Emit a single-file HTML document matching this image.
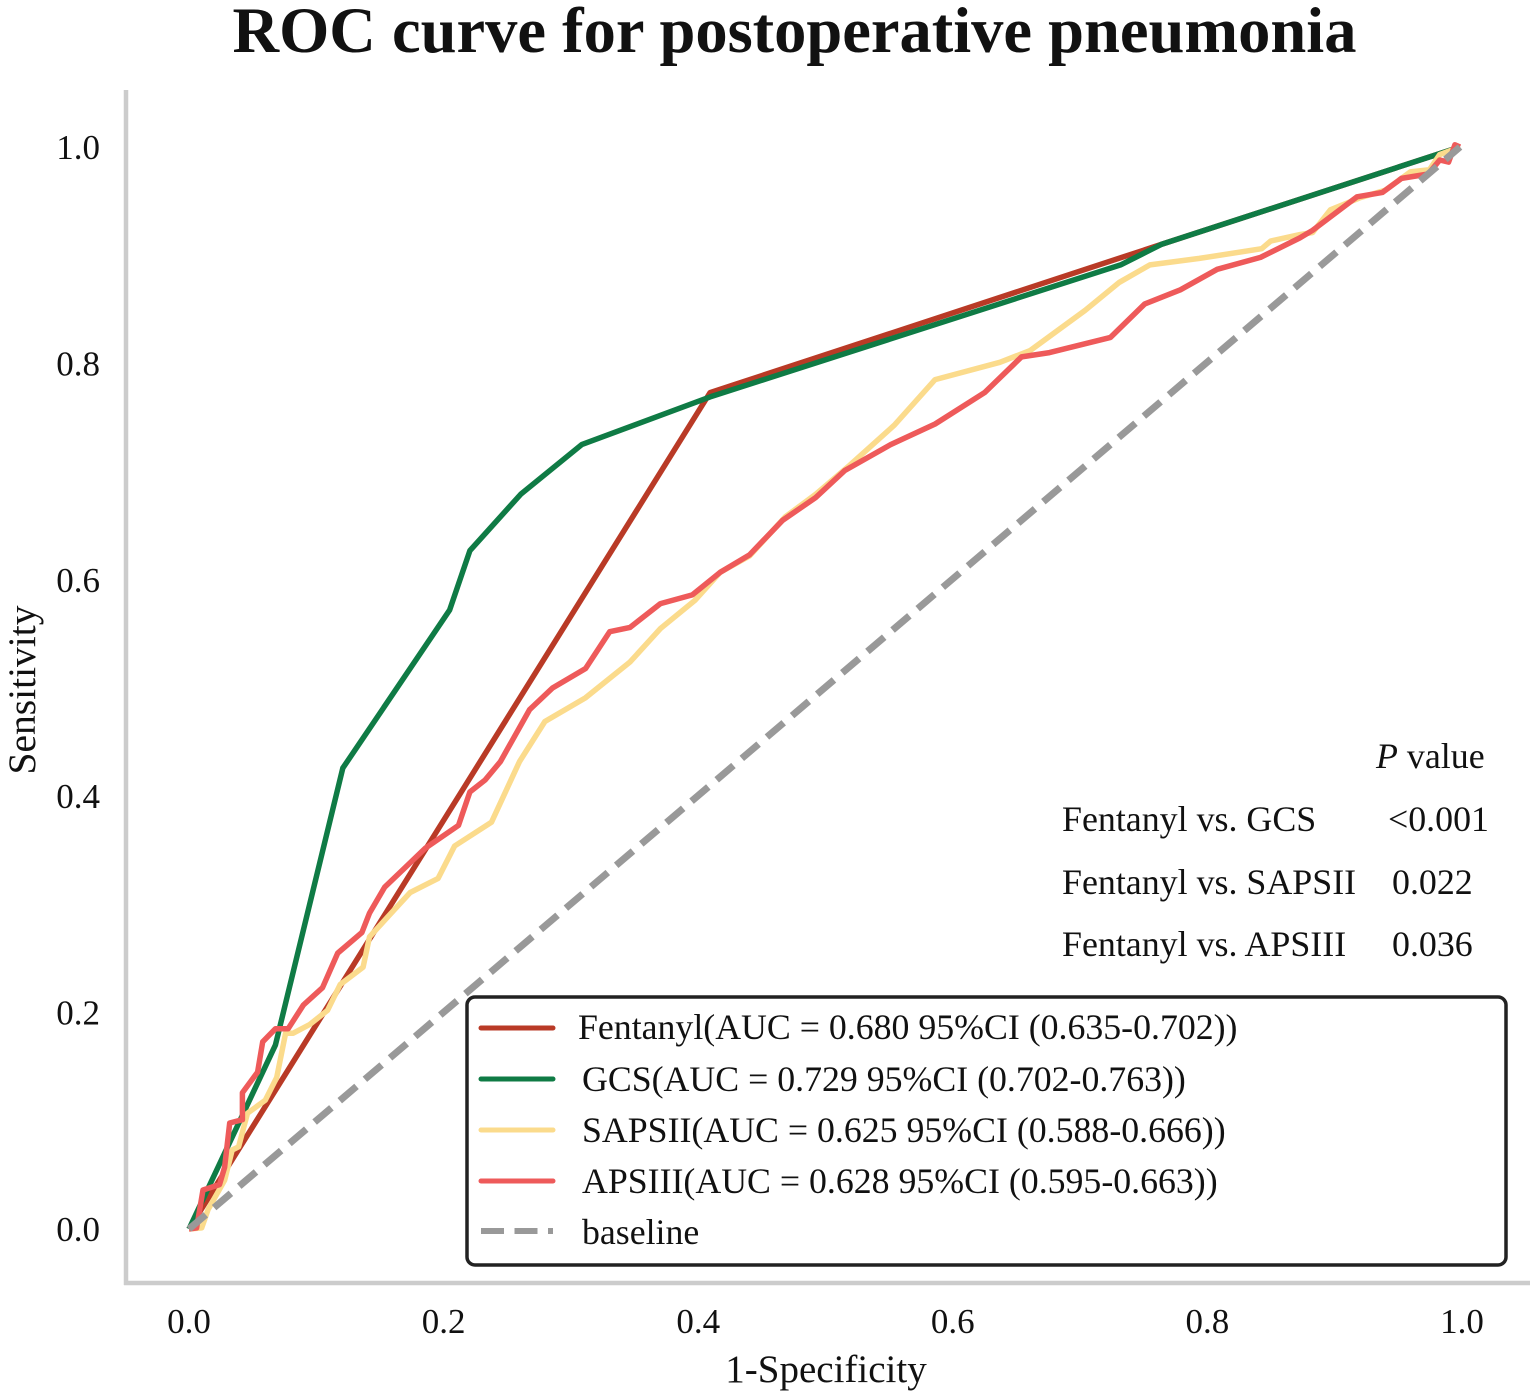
<!DOCTYPE html>
<html lang="en">
<head>
<meta charset="utf-8">
<title>ROC curve for postoperative pneumonia</title>
<style>
html,body{margin:0;padding:0;background:#fff;}
svg{display:block;}
text{font-family:"Liberation Serif",serif;fill:#111;}
</style>
</head>
<body>
<svg id="chart" width="1535" height="1400" viewBox="0 0 1535 1400" xmlns="http://www.w3.org/2000/svg">
  <rect width="1535" height="1400" fill="#fff"/>
  <text x="794.5" y="52" text-anchor="middle" font-size="64.5" font-weight="bold">ROC curve for postoperative pneumonia</text>
  <line x1="126" y1="90" x2="126" y2="1285" stroke="#ccc" stroke-width="4.5"/>
  <line x1="124" y1="1283" x2="1530" y2="1283" stroke="#ccc" stroke-width="4.5"/>
  <g id="ticks"></g>
  <g id="series"></g>
  <text x="826" y="1382" text-anchor="middle" font-size="39">1-Specificity</text>
  <text transform="translate(35,690) rotate(-90)" text-anchor="middle" font-size="39.5">Sensitivity</text>

  <g font-size="35.9">
    <text x="1376" y="768"><tspan font-style="italic">P</tspan> value</text>
    <text x="1062" y="831">Fentanyl vs. GCS</text>
    <text x="1388" y="831">&lt;0.001</text>
    <text x="1062" y="894">Fentanyl vs. SAPSII</text>
    <text x="1392" y="894">0.022</text>
    <text x="1062" y="956">Fentanyl vs. APSIII</text>
    <text x="1392" y="956">0.036</text>
  </g>

  <g>
    <rect x="467" y="997" width="1039" height="268" rx="8" fill="#fff" stroke="#222" stroke-width="3.5"/>
    <line x1="481" y1="1028" x2="553" y2="1028" stroke="#B93A26" stroke-width="5" stroke-linecap="round"/>
    <text x="578" y="1039" font-size="35.8">Fentanyl(AUC = 0.680 95%CI (0.635-0.702))</text>
    <line x1="481" y1="1079" x2="553" y2="1079" stroke="#0F7B45" stroke-width="5" stroke-linecap="round"/>
    <text x="582" y="1091" font-size="35.8">GCS(AUC = 0.729 95%CI (0.702-0.763))</text>
    <line x1="481" y1="1130" x2="553" y2="1130" stroke="#FBDB8C" stroke-width="5" stroke-linecap="round"/>
    <text x="582" y="1142" font-size="35.8">SAPSII(AUC = 0.625 95%CI (0.588-0.666))</text>
    <line x1="481" y1="1181" x2="553" y2="1181" stroke="#EE5A5A" stroke-width="5" stroke-linecap="round"/>
    <text x="582" y="1193" font-size="35.8">APSIII(AUC = 0.628 95%CI (0.595-0.663))</text>
    <line x1="481" y1="1231" x2="553" y2="1231" stroke="#999" stroke-width="6" stroke-dasharray="23 10.5"/>
    <text x="582" y="1244" font-size="35.8">baseline</text>
  </g>
</svg>
<script>
const xTickLabels = ["0.0", "0.2", "0.4", "0.6", "0.8", "1.0"];
const yTickLabels = ["0.0", "0.2", "0.4", "0.6", "0.8", "1.0"];
const baselineX = [0, 1];
const baselineY = [0, 1];
const fentanylX = [0, 0.41, 0.765, 1];
const fentanylY = [0, 0.773, 0.91, 1];
const gcsX = [0, 0.068, 0.121, 0.205, 0.221, 0.261, 0.309, 0.41, 0.733, 0.765, 1];
const gcsY = [0, 0.17, 0.426, 0.572, 0.627, 0.679, 0.725, 0.769, 0.891, 0.91, 1];
const sapsiiX = [0, 0.01, 0.015, 0.028, 0.034, 0.039, 0.046, 0.06, 0.069, 0.076, 0.082, 0.095, 0.109, 0.119, 0.137, 0.142, 0.156, 0.174, 0.196, 0.209, 0.238, 0.26, 0.28, 0.312, 0.347, 0.371, 0.398, 0.418, 0.441, 0.469, 0.493, 0.52, 0.555, 0.587, 0.638, 0.662, 0.705, 0.732, 0.756, 0.795, 0.844, 0.851, 0.874, 0.884, 0.898, 0.921, 0.941, 0.961, 0.976, 0.984, 1];
const sapsiiY = [0, 0.001, 0.018, 0.045, 0.073, 0.076, 0.107, 0.119, 0.14, 0.181, 0.181, 0.189, 0.202, 0.226, 0.242, 0.27, 0.288, 0.311, 0.324, 0.354, 0.376, 0.432, 0.469, 0.491, 0.524, 0.555, 0.581, 0.607, 0.622, 0.658, 0.679, 0.706, 0.743, 0.785, 0.801, 0.812, 0.849, 0.875, 0.891, 0.897, 0.906, 0.913, 0.919, 0.921, 0.942, 0.953, 0.96, 0.977, 0.979, 0.993, 1];
const apsiiiX = [0, 0.006, 0.011, 0.024, 0.028, 0.032, 0.042, 0.042, 0.054, 0.058, 0.068, 0.078, 0.09, 0.105, 0.117, 0.136, 0.142, 0.154, 0.17, 0.186, 0.212, 0.221, 0.233, 0.245, 0.268, 0.286, 0.312, 0.331, 0.347, 0.371, 0.396, 0.418, 0.441, 0.467, 0.493, 0.516, 0.552, 0.587, 0.626, 0.655, 0.677, 0.725, 0.752, 0.78, 0.809, 0.843, 0.874, 0.884, 0.919, 0.939, 0.954, 0.975, 0.984, 0.991, 0.996, 1];
const apsiiiY = [0, 0.001, 0.036, 0.041, 0.057, 0.098, 0.101, 0.126, 0.145, 0.173, 0.185, 0.185, 0.207, 0.223, 0.255, 0.274, 0.292, 0.316, 0.334, 0.352, 0.373, 0.404, 0.415, 0.432, 0.48, 0.5, 0.518, 0.552, 0.556, 0.578, 0.586, 0.607, 0.623, 0.655, 0.676, 0.701, 0.725, 0.744, 0.773, 0.806, 0.81, 0.824, 0.855, 0.868, 0.887, 0.898, 0.916, 0.923, 0.954, 0.958, 0.971, 0.975, 0.988, 0.986, 1.002, 1];

const SVG_NS = "http://www.w3.org/2000/svg";
function scaleX(v) { return 189 + v * 1271; }
function scaleY(v) { return 1229 - v * 1082; }
function polyPoints(xs, ys) {
  return xs.map(function (x, i) { return scaleX(x).toFixed(1) + "," + scaleY(ys[i]).toFixed(1); }).join(" ");
}
const ticksGroup = document.getElementById("ticks");
xTickLabels.forEach(function (label) {
  const t = document.createElementNS(SVG_NS, "text");
  
  
  t.setAttribute("x", (scaleX(parseFloat(label)) + parseFloat(label) * 2).toFixed(1));
  t.setAttribute("y", "1333");
  t.setAttribute("text-anchor", "middle");
  t.setAttribute("font-size", "35");
  t.textContent = label;
  ticksGroup.appendChild(t);
});
yTickLabels.forEach(function (label) {
  const t = document.createElementNS(SVG_NS, "text");
  
  
  t.setAttribute("x", "100");
  t.setAttribute("y", (scaleY(parseFloat(label)) + 12).toFixed(1));
  t.setAttribute("text-anchor", "end");
  t.setAttribute("font-size", "35");
  t.textContent = label;
  ticksGroup.appendChild(t);
});
const seriesGroup = document.getElementById("series");
function addLine(xs, ys, color, width, dash, name) {
  const p = document.createElementNS(SVG_NS, "polyline");
  
  
  p.setAttribute("points", polyPoints(xs, ys));
  p.setAttribute("fill", "none");
  p.setAttribute("stroke", color);
  p.setAttribute("stroke-width", width);
  p.setAttribute("stroke-linejoin", "round");
  if (dash) { p.setAttribute("stroke-dasharray", dash); }
  seriesGroup.appendChild(p);
}
addLine(fentanylX, fentanylY, "#B93A26", 5.5, null, "line-fentanyl");
addLine(gcsX, gcsY, "#0F7B45", 5.5, null, "line-gcs");
addLine(sapsiiX, sapsiiY, "#FBDB8C", 5.5, null, "line-sapsii");
addLine(apsiiiX, apsiiiY, "#EE5A5A", 5.5, null, "line-apsiii");
addLine(baselineX, baselineY, "#999", 7, "22 11", "line-baseline");
</script>
</body>
</html>
